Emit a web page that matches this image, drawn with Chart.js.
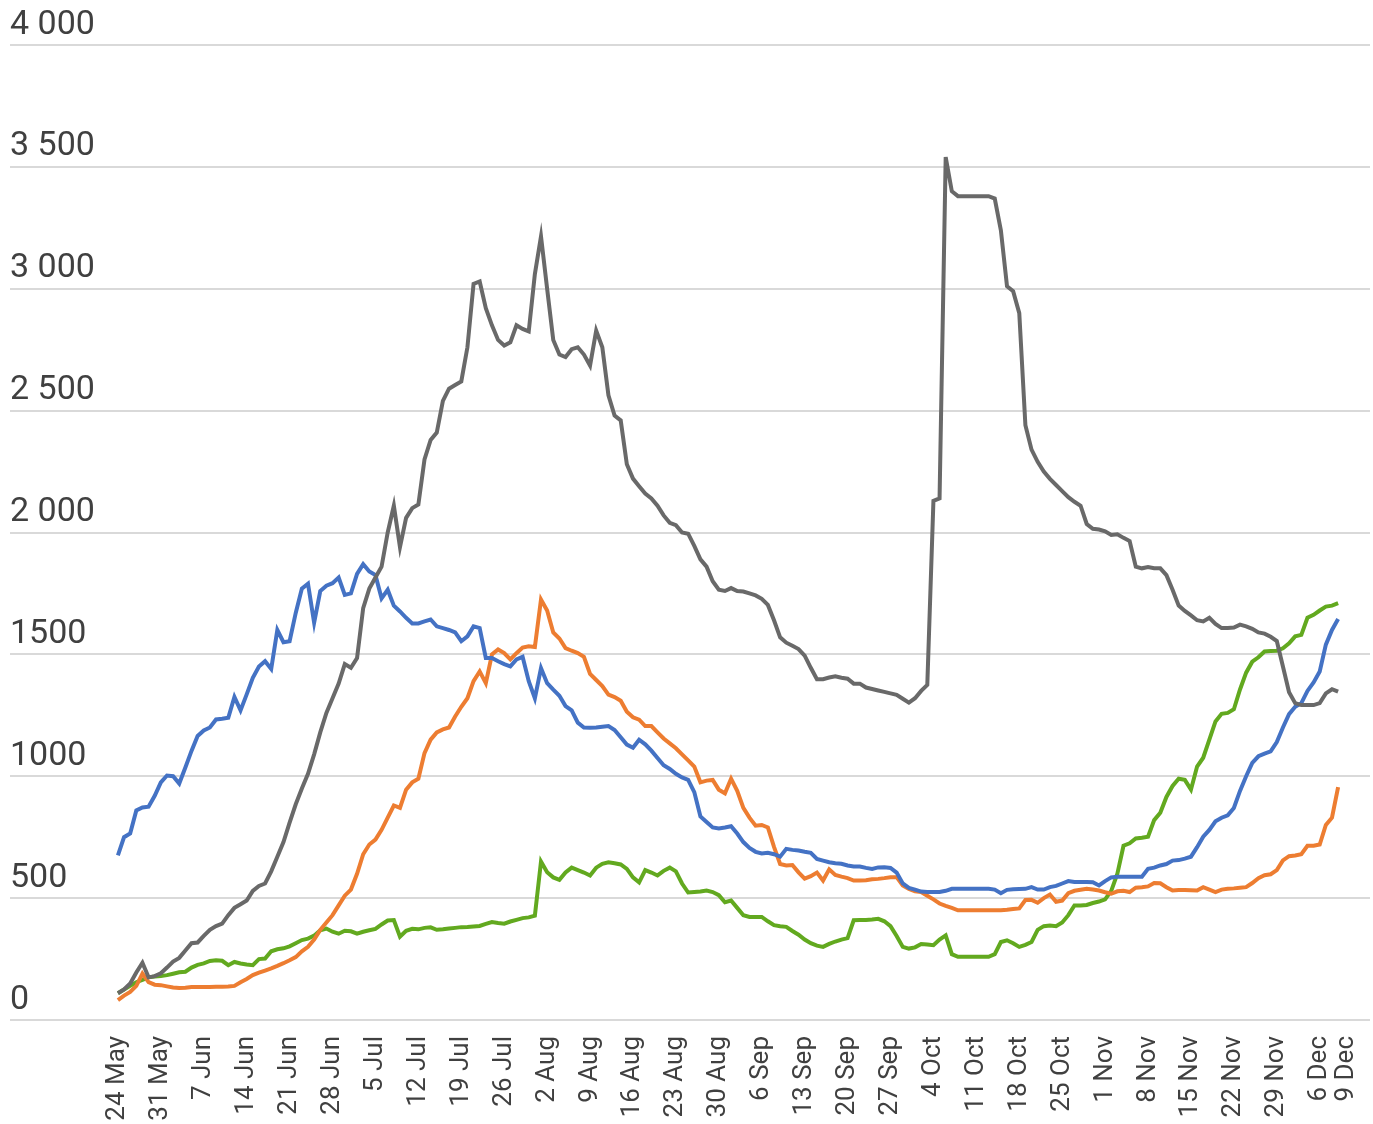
<!DOCTYPE html>
<html>
<head>
<meta charset="utf-8">
<script src="https://cdn.jsdelivr.net/npm/chart.js@4.4.0/dist/chart.umd.min.js"></script>
<style>
    html, body { margin: 0; padding: 0; background: #ffffff; }
    .chart-container { position: relative; width: 1373px; height: 1124px; }
</style>
</head>
<body>
<div class="chart-container"><canvas id="trendChart"></canvas></div>
<script>
// Daily values, 24 May - 9 Dec
const grey = [
    110, 125, 150, 195, 235, 175, 180, 192, 215, 240,
    255, 285, 315, 318, 345, 370, 385, 395, 430, 460,
    475, 490, 530, 550, 560, 610, 670, 730, 810, 885,
    950, 1010, 1090, 1180, 1260, 1320, 1380, 1460, 1445, 1485,
    1690, 1770, 1815, 1860, 2000, 2110, 1940, 2060, 2100, 2115,
    2300, 2380, 2410, 2540, 2590, 2605, 2620, 2760, 3020, 3030,
    2920, 2850, 2790, 2767, 2780, 2850, 2835, 2825, 3060, 3215,
    3000, 2790, 2730, 2720, 2752, 2760, 2730, 2685, 2828, 2760,
    2563, 2480, 2460, 2280, 2221, 2190, 2160, 2140, 2110, 2070,
    2040, 2030, 2000, 1995, 1945, 1890, 1860, 1800, 1765, 1760,
    1772, 1760, 1758, 1750, 1742, 1728, 1703, 1640, 1570, 1548,
    1535, 1522, 1495, 1445, 1398, 1398, 1405, 1410, 1404, 1400,
    1380, 1380, 1364, 1358, 1352, 1346, 1340, 1334, 1318, 1302,
    1320, 1350, 1375, 2130, 2140, 3540, 3400, 3380, 3380, 3380,
    3380, 3380, 3380, 3370, 3240, 3010, 2990, 2900, 2440, 2340,
    2290, 2250, 2220, 2195, 2170, 2145, 2126, 2110, 2035, 2015,
    2012, 2005, 1990, 1993, 1978, 1965, 1860, 1853, 1858, 1853,
    1853, 1825, 1765, 1700, 1678, 1660, 1640, 1635, 1650, 1625,
    1608, 1608, 1610, 1622, 1615, 1605, 1590, 1585, 1572, 1555,
    1450, 1345, 1300, 1292, 1292, 1292, 1300, 1340, 1357, 1347
];
const blue = [
    675, 750, 765, 860, 872, 875, 920, 975, 1003, 1000,
    970, 1036, 1104, 1165, 1188, 1200, 1233, 1236, 1240, 1325,
    1270, 1336, 1404, 1450, 1472, 1440, 1600, 1550, 1554, 1670,
    1770, 1790, 1630, 1760, 1782, 1792, 1815, 1744, 1750, 1830,
    1870, 1840, 1825, 1730, 1765, 1700, 1676, 1650, 1627, 1627,
    1635, 1643, 1615, 1608, 1600, 1590, 1554, 1574, 1615, 1608,
    1485, 1485, 1472, 1460, 1451, 1479, 1490, 1390, 1320, 1444,
    1382, 1355, 1330, 1288, 1270, 1220, 1200, 1199, 1200, 1203,
    1206, 1190, 1160, 1130, 1117, 1150, 1131, 1105, 1075, 1045,
    1030, 1010, 995, 985, 935, 835, 812, 790, 786, 790,
    795, 765, 730, 706, 690, 683, 686, 680, 670, 702,
    698, 695, 690, 686, 661, 654, 647, 643, 641, 634,
    630, 630, 624, 620, 626, 627, 624, 605, 560, 542,
    535, 527, 525, 525, 525, 530, 538, 538, 538, 538,
    538, 538, 538, 535, 520, 534, 536, 537, 538, 545,
    535, 535, 545, 550, 560, 570, 566, 566, 566, 565,
    552, 570, 585, 588, 588, 588, 588, 588, 620, 625,
    634, 640, 654, 656, 662, 670, 709, 752, 780, 815,
    830, 840, 870, 940, 1000, 1055, 1082, 1093, 1102, 1140,
    1200, 1255, 1285, 1300, 1350, 1385, 1430, 1540, 1600, 1645
];
const orange = [
    82, 100, 115, 140, 190, 155, 145, 143, 138, 133,
    131, 132, 135, 135, 135, 135, 136, 136, 137, 140,
    155, 168, 184, 194, 203, 212, 222, 233, 245, 258,
    282, 300, 330, 370, 400, 430, 470, 510, 535, 600,
    680, 720, 740, 780, 830, 880, 870, 945, 975, 990,
    1095, 1150, 1180, 1192, 1200, 1245, 1285, 1320, 1390, 1430,
    1382, 1500, 1520, 1505, 1479, 1505, 1528, 1533, 1530, 1725,
    1680, 1590, 1565, 1526, 1515, 1505, 1490, 1420, 1395, 1370,
    1335, 1325, 1310, 1265, 1242, 1232, 1206, 1206, 1180, 1155,
    1135, 1115, 1090, 1065, 1040, 975, 982, 985, 945, 930,
    990, 940, 870, 830, 797, 800, 790, 710, 640, 634,
    636, 606, 580, 590, 605, 572, 618, 595, 588, 582,
    572, 572, 573, 577, 579, 582, 586, 586, 552, 538,
    528, 525, 510, 495, 478, 468, 460, 450, 450, 450,
    450, 450, 450, 450, 450, 452, 455, 458, 492, 493,
    481, 500, 515, 485, 490, 520, 530, 534, 538, 535,
    531, 524, 518, 528, 530, 525, 543, 545, 548, 562,
    561, 545, 531, 533, 533, 532, 531, 545, 535, 525,
    535, 538, 540, 543, 545, 562, 582, 594, 598, 615,
    655, 672, 675, 680, 715, 715, 720, 800, 830, 955
];
const green = [
    110, 125, 140, 155, 165, 175, 178, 180, 184, 190,
    196, 198, 215, 226, 232, 242, 245, 243, 225, 238,
    232, 228, 225, 250, 252, 282, 290, 294, 302, 315,
    328, 334, 346, 368, 375, 362, 354, 366, 364, 354,
    362, 368, 374, 392, 408, 410, 342, 366, 374, 372,
    378, 380, 370, 372, 375, 378, 381, 382, 384, 386,
    394, 402, 398, 395, 404, 411, 418, 421, 428, 650,
    606, 585, 575, 605, 625, 615, 605, 593, 625, 641,
    647, 643, 638, 620, 585, 565, 615, 605, 593, 612,
    625, 610, 560, 523, 525, 527, 531, 525, 512, 483,
    490, 460, 430, 423, 423, 423, 405, 389, 385, 382,
    365, 350, 330, 315, 305, 300, 312, 322, 330, 336,
    409, 410, 410, 412, 415, 405, 385, 345, 300, 293,
    298, 312, 310, 307, 330, 347, 270, 259, 259, 259,
    259, 259, 259, 270, 320, 327, 315, 300, 308, 320,
    370, 385, 388, 385, 400, 430, 470, 470, 472, 480,
    486, 495, 530, 600, 715, 725, 745, 748, 752, 820,
    850, 915, 960, 990, 985, 945, 1040, 1076, 1150, 1225,
    1256, 1260, 1275, 1356, 1425, 1470, 1488, 1512, 1514, 1515,
    1525, 1545, 1574, 1580, 1650, 1662, 1680, 1696, 1700, 1710
];

// y axis labels, bottom to top (the original writes 1000 and 1500 without a space)
const yTickLabels = ['0', '500', '1000', '1500', '2 000', '2 500', '3 000', '3 500', '4 000'];

// Day categories: 24 May onwards
const monthNames = ['Jan', 'Feb', 'Mar', 'Apr', 'May', 'Jun', 'Jul', 'Aug', 'Sep', 'Oct', 'Nov', 'Dec'];
const categories = [];
for (let i = 0; i < grey.length; i++) {
    const d = new Date(Date.UTC(2020, 4, 24 + i));
    categories.push(d.getUTCDate() + ' ' + monthNames[d.getUTCMonth()]);
}
const lastDay = categories.length - 1;
// a label every week, plus the last day (nudged right a little so it does not sit on "6 Dec")
const tickDays = categories.map((c, i) => i).filter(i => i % 7 === 0);
tickDays.push(lastDay + 1.3);

const toPoints = (arr) => arr.map((v, i) => ({ x: i, y: v }));

const series = [
    { label: 'Grey', data: grey, color: '#696969' },
    { label: 'Blue', data: blue, color: '#4472c4' },
    { label: 'Orange', data: orange, color: '#ed7d31' },
    { label: 'Green', data: green, color: '#62a91f' }
];

Chart.defaults.font.family = 'Roboto, "Open Sans", sans-serif';
Chart.defaults.color = '#404040';

const ctx = document.getElementById('trendChart').getContext('2d');
const trendChart = new Chart(ctx, {
    type: 'line',
    data: {
        datasets: series.map(s => ({
            label: s.label,
            data: toPoints(s.data),
            borderColor: s.color,
            backgroundColor: s.color,
            borderWidth: 4,
            pointRadius: 0,
            tension: 0,
            fill: false
        }))
    },
    options: {
        responsive: true,
        maintainAspectRatio: false,
        animation: false,
        layout: {
            padding: { left: 10, right: 3, top: 45, bottom: 0 }
        },
        plugins: {
            legend: { display: false },
            tooltip: { enabled: false }
        },
        scales: {
            x: {
                type: 'linear',
                min: -17.6,
                max: 204.2,
                grid: { display: false, drawTicks: false },
                border: { display: false },
                afterBuildTicks: (scale) => {
                    scale.ticks = tickDays.map(v => ({ value: v }));
                },
                // fixed room for the rotated date labels, no extra side padding
                afterFit: (scale) => {
                    scale.height = 104;
                    scale.paddingLeft = 0;
                    scale.paddingRight = 0;
                },
                ticks: {
                    autoSkip: false,
                    minRotation: 90,
                    maxRotation: 90,
                    padding: 16,
                    font: { size: 26 },
                    callback: (value) => categories[Math.min(Math.round(value), lastDay)]
                }
            },
            y: {
                min: 0,
                max: 4000,
                grid: { color: '#d9d9d9', lineWidth: 2, drawTicks: false },
                border: { display: false },
                ticks: {
                    stepSize: 500,
                    mirror: true,
                    padding: 0,
                    labelOffset: -20,
                    font: { size: 34 },
                    callback: (value) => yTickLabels[value / 500]
                }
            }
        }
    }
});
</script>
</body>
</html>
